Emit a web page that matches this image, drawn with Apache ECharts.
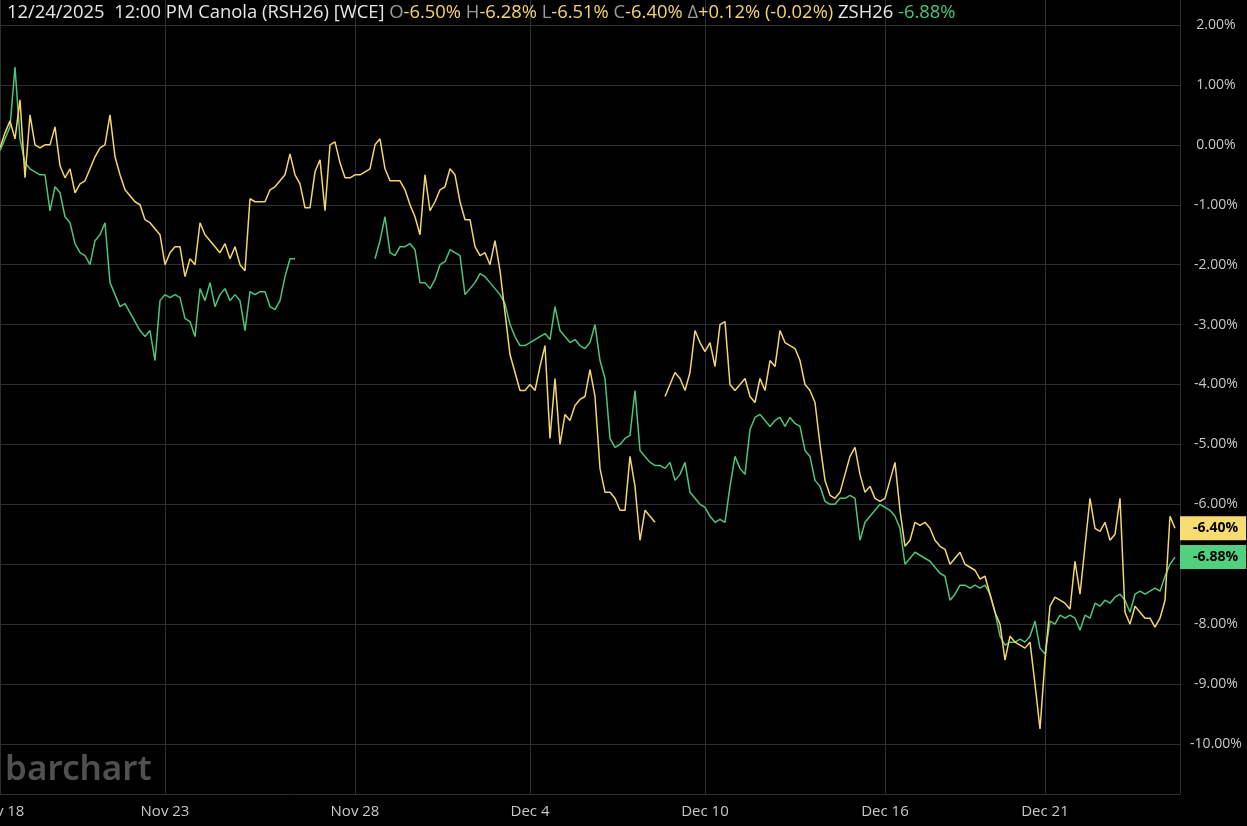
<!DOCTYPE html>
<html><head><meta charset="utf-8">
<script src="https://cdn.jsdelivr.net/npm/echarts@6/dist/echarts.min.js"></script>
<style>html,body{margin:0;padding:0;background:#000;}#c{width:1247px;height:826px;}</style>
</head><body><div id="c"></div>
<script>
// Canola (RSH26) percent change, sampled per time slot
const canola = [
 -0.05, 0.2, 0.4, 0.1, 0.75, -0.55, 0.5, 0.0, -0.05, 0.0,
 0.0, 0.3, -0.35, -0.55, -0.4, -0.8, -0.65, -0.6, -0.4, -0.2,
 -0.05, 0.0, 0.5, -0.2, -0.5, -0.75, -0.85, -0.95, -1.0, -1.25,
 -1.3, -1.4, -1.5, -2.0, -1.8, -1.7, -1.7, -2.2, -1.9, -2.0,
 -1.3, -1.5, -1.6, -1.7, -1.8, -1.65, -1.9, -1.7, -2.0, -2.1,
 -0.9, -0.95, -0.95, -0.95, -0.75, -0.7, -0.6, -0.5, -0.15, -0.5,
 -0.65, -1.05, -1.05, -0.45, -0.25, -1.1, 0.0, 0.05, -0.3, -0.55,
 -0.55, -0.5, -0.5, -0.45, -0.4, 0.0, 0.1, -0.4, -0.6, -0.6,
 -0.6, -0.75, -1.0, -1.2, -1.5, -0.5, -1.1, -0.95, -0.75, -0.7,
 -0.4, -0.5, -0.95, -1.25, -1.25, -1.7, -1.85, -1.8, -2.0, -1.6,
 -2.1, -2.8, -3.5, -3.8, -4.1, -4.1, -4.0, -4.1, -3.7, -3.35,
 -4.9, -3.9, -5.0, -4.5, -4.6, -4.35, -4.25, -4.2, -3.75, -4.2,
 -5.4, -5.8, -5.8, -5.9, -6.1, -6.1, -5.2, -5.7, -6.6, -6.1,
 -6.2, -6.3, null, -4.2, -4.0, -3.8, -3.9, -4.1, -3.8, -3.1,
 -3.3, -3.45, -3.3, -3.7, -3.0, -2.95, -4.0, -4.1, -4.0, -3.9,
 -4.2, -4.3, -3.9, -4.1, -3.6, -3.7, -3.1, -3.3, -3.35, -3.4,
 -3.6, -4.0, -4.1, -4.3, -5.0, -5.6, -5.85, -5.9, -5.8, -5.5,
 -5.2, -5.05, -5.5, -5.8, -5.7, -5.9, -5.95, -5.9, -5.6, -5.3,
 -6.1, -6.7, -6.6, -6.3, -6.35, -6.3, -6.4, -6.6, -6.7, -6.75,
 -7.0, -6.9, -6.8, -7.0, -7.05, -7.1, -7.25, -7.2, -7.5, -7.8,
 -8.0, -8.6, -8.2, -8.3, -8.35, -8.4, -8.3, -9.0, -9.75, -8.6,
 -7.7, -7.55, -7.6, -7.65, -7.75, -6.95, -7.5, -6.7, -5.9, -6.4,
 -6.45, -6.3, -6.6, -6.5, -5.9, -7.8, -8.0, -7.7, -7.8, -7.9,
 -7.9, -8.05, -7.9, -7.6, -6.2, -6.4, null
];
// Soybeans (ZSH26) percent change, same time slots
const soybeans = [
 -0.1, 0.1, 0.3, 1.3, 0.1, -0.3, -0.4, -0.45, -0.5, -0.5,
 -1.1, -0.7, -0.8, -1.2, -1.3, -1.65, -1.8, -1.85, -2.0, -1.6,
 -1.5, -1.3, -2.3, -2.5, -2.7, -2.65, -2.8, -2.95, -3.1, -3.2,
 -3.1, -3.6, -2.6, -2.5, -2.55, -2.5, -2.55, -2.9, -2.95, -3.2,
 -2.4, -2.6, -2.3, -2.7, -2.5, -2.4, -2.6, -2.5, -2.6, -3.1,
 -2.45, -2.5, -2.45, -2.45, -2.7, -2.75, -2.6, -2.2, -1.9, -1.9,
 null, null, null, null, null, null, null, null, null, null,
 null, null, null, null, null, -1.9, -1.6, -1.2, -1.8, -1.85,
 -1.7, -1.7, -1.65, -1.75, -2.3, -2.3, -2.4, -2.25, -2.0, -1.95,
 -1.75, -1.8, -1.85, -2.5, -2.4, -2.3, -2.15, -2.2, -2.3, -2.4,
 -2.5, -2.65, -3.0, -3.2, -3.35, -3.35, -3.3, -3.25, -3.2, -3.15,
 -3.25, -2.7, -3.1, -3.2, -3.3, -3.25, -3.35, -3.4, -3.3, -3.0,
 -3.6, -3.9, -4.9, -5.05, -5.0, -4.9, -4.85, -4.1, -5.1, -5.2,
 -5.3, -5.35, -5.35, -5.4, -5.3, -5.6, -5.5, -5.3, -5.8, -5.9,
 -6.0, -6.05, -6.2, -6.3, -6.25, -6.3, -5.7, -5.2, -5.4, -5.5,
 -4.75, -4.55, -4.5, -4.6, -4.7, -4.6, -4.55, -4.7, -4.55, -4.65,
 -4.7, -5.1, -5.2, -5.6, -5.7, -5.95, -6.0, -6.0, -5.9, -5.9,
 -5.85, -5.9, -6.6, -6.3, -6.2, -6.1, -6.0, -6.05, -6.1, -6.2,
 -6.4, -7.0, -6.9, -6.8, -6.85, -6.9, -6.95, -7.05, -7.15, -7.2,
 -7.6, -7.5, -7.35, -7.35, -7.4, -7.35, -7.4, -7.35, -7.5, -7.8,
 -8.2, -8.35, -8.3, -8.3, -8.25, -8.3, -8.2, -7.95, -8.4, -8.5,
 -7.95, -8.0, -7.85, -7.9, -7.85, -7.9, -8.1, -7.85, -7.9, -7.65,
 -7.7, -7.6, -7.65, -7.55, -7.5, -7.6, -7.8, -7.5, -7.45, -7.5,
 -7.45, -7.4, -7.45, -7.2, -7.0, -6.88, null
];
const tickSlots = [0, 33, 71, 106, 141, 177, 209];
const tickLabels = ['Nov 18', 'Nov 23', 'Nov 28', 'Dec 4', 'Dec 10', 'Dec 16', 'Dec 21'];
const canolaLast = -6.40;
const soyLast = -6.88;
const headerDate = '12/24/2025  12:00 PM';
const headerName = 'Canola (RSH26) [WCE]';
const headerStats = [['O', '-6.50%'], ['H', '-6.28%'], ['L', '-6.51%'], ['C', '-6.40%'], ['\u0394', '+0.12% (-0.02%)']];
const compareName = 'ZSH26';
const compareValue = '-6.88%';

const slots = canola.map((_, i) => String(i));
const tickMap = {};
tickSlots.forEach((s, k) => { tickMap[s] = tickLabels[k]; });
const isTick = (i) => tickMap[i] !== undefined;

const YEL = '#f3d56c', GRN = '#4cc47a', GRID = '#2a2e35', TXT = '#c8c8c8';
const FONT = 'Open Sans';
const HF = 18.4;

let headerText = '{w|' + headerDate + ' ' + headerName + ' }';
headerStats.forEach(([k, v]) => { headerText += '{g|' + k + '}{y|' + v + ' }'; });
headerText += '{w|' + compareName + ' }{gr|' + compareValue + '}';

const chart = echarts.init(document.getElementById('c'));
chart.setOption({
  backgroundColor: '#000',
  animation: false,
  title: {
    left: 7, top: 4, padding: 0,
    text: headerText,
    textStyle: {
      fontFamily: FONT, fontSize: HF, fontWeight: 'normal',
      rich: {
        w: { color: '#e6e6e6', fontFamily: FONT, fontSize: HF },
        g: { color: '#9a9a9a', fontFamily: FONT, fontSize: HF },
        y: { color: YEL, fontFamily: FONT, fontSize: HF },
        gr: { color: GRN, fontFamily: FONT, fontSize: HF }
      }
    }
  },
  graphic: [{
    type: 'text', left: 5, top: 753, z: 0,
    style: { text: 'barchart', fill: '#505050', font: '600 35px "Noto Sans"' }
  }],
  grid: [
    { left: 0, right: 67, top: 25, bottom: 82, outerBoundsMode: 'none', containLabel: false },
    { left: 0, right: 67, top: 0, bottom: 32, outerBoundsMode: 'none', containLabel: false }
  ],
  xAxis: [
    { type: 'category', gridIndex: 0, data: slots, boundaryGap: false, show: false },
    {
      type: 'category', gridIndex: 1, data: slots, boundaryGap: false,
      axisLine: { show: true, lineStyle: { color: GRID } },
      axisTick: { show: false },
      splitLine: { show: true, interval: (i) => isTick(i), lineStyle: { color: GRID, width: 1 } },
      axisLabel: {
        interval: (i) => isTick(i), showMinLabel: true,
        formatter: (v, i) => tickMap[i] || '',
        color: TXT, fontSize: 15, fontFamily: FONT, margin: 10
      }
    }
  ],
  yAxis: [
    {
      type: 'value', gridIndex: 0, position: 'right', min: -10, max: 2, interval: 1,
      axisLine: { show: false }, axisTick: { show: false },
      splitLine: { show: true, lineStyle: { color: GRID, width: 1 } },
      axisLabel: { formatter: (v) => v.toFixed(2) + '%', align: 'center', margin: 36, color: TXT, fontSize: 14, fontFamily: FONT }
    },
    {
      type: 'value', gridIndex: 1, position: 'right', min: 0, max: 1,
      axisLine: { show: true, lineStyle: { color: GRID } },
      axisTick: { show: false }, axisLabel: { show: false }, splitLine: { show: false }
    }
  ],
  series: [
    {
      type: 'line', name: compareName, data: soybeans, xAxisIndex: 0, yAxisIndex: 0,
      symbol: 'none', showSymbol: false, connectNulls: false, clip: false,
      lineStyle: { color: GRN, width: 1.5 },
      markLine: {
        symbol: 'none', silent: true, animation: false,
        lineStyle: { color: 'rgba(0,0,0,0)', width: 0 },
        label: { show: true, position: 'end', distance: 0, formatter: soyLast.toFixed(2) + '%', backgroundColor: '#52d07f', color: '#000', fontWeight: 'bold', fontSize: 14, fontFamily: FONT, padding: [5, 8, 5, 13] },
        data: [{ yAxis: soyLast }]
      }
    },
    {
      type: 'line', name: 'Canola', data: canola, xAxisIndex: 0, yAxisIndex: 0,
      symbol: 'none', showSymbol: false, connectNulls: false, clip: false,
      lineStyle: { color: YEL, width: 1.5 },
      markLine: {
        symbol: 'none', silent: true, animation: false,
        lineStyle: { color: 'rgba(0,0,0,0)', width: 0 },
        label: { show: true, position: 'end', distance: 0, formatter: canolaLast.toFixed(2) + '%', backgroundColor: '#f7dc72', color: '#000', fontWeight: 'bold', fontSize: 14, fontFamily: FONT, padding: [5, 8, 5, 13] },
        data: [{ yAxis: canolaLast }]
      }
    }
  ]
});
</script></body></html>
